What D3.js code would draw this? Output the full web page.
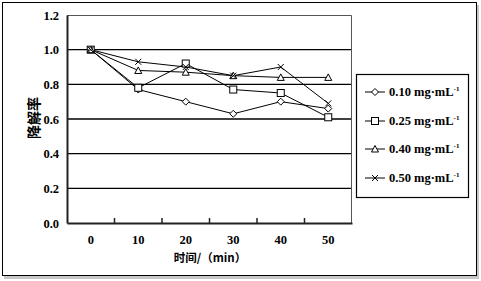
<!DOCTYPE html>
<html>
<head>
<meta charset="utf-8">
<script src="https://cdn.jsdelivr.net/npm/d3@7"></script>
<style>
  body { margin: 0; background: #fff; }
  svg text { font-family: "Liberation Serif", "Times New Roman", serif; font-weight: bold; fill: #000; }
</style>
</head>
<body>
<div id="chart"></div>
<script>
// Degradation rate vs. time, four concentrations
const times = ['0', '10', '20', '30', '40', '50'];
const yTicks = [0, 0.2, 0.4, 0.6, 0.8, 1.0, 1.2];
const seriesNames = ['0.10', '0.25', '0.40', '0.50'];
const c010 = [1.0, 0.77, 0.70, 0.63, 0.70, 0.66];
const c025 = [1.0, 0.78, 0.92, 0.77, 0.75, 0.61];
const c040 = [1.0, 0.88, 0.87, 0.85, 0.84, 0.84];
const c050 = [1.0, 0.93, 0.90, 0.85, 0.90, 0.69];
const seriesValues = [c010, c025, c040, c050];
const markers = ['diamond', 'square', 'triangle', 'cross'];

const W = 481, H = 281;
const margin = { top: 15, right: 129, bottom: 58, left: 67 };
const width = W - margin.left - margin.right;
const height = H - margin.top - margin.bottom;

const svg = d3.select('#chart').append('svg')
  .attr('width', W).attr('height', H);

// outer frame with a soft shadow
svg.append('rect').attr('x', 4).attr('y', 5).attr('width', 475).attr('height', 274).attr('fill', '#c8c8c8');
svg.append('rect').attr('x', 2.5).attr('y', 2.5).attr('width', 474).attr('height', 273)
  .attr('fill', '#fff').attr('stroke', '#000').attr('stroke-width', 1);

const g = svg.append('g').attr('transform', `translate(${margin.left},${margin.top})`);

const x = d3.scaleBand().domain(times).range([0, width]);
const y = d3.scaleLinear().domain([0, 1.2]).range([height, 0]);

// grid lines
g.selectAll('.grid').data(yTicks.filter(d => d > 0 && d < 1.2)).enter()
  .append('line')
  .attr('x1', 0).attr('x2', width)
  .attr('y1', d => y(d)).attr('y2', d => y(d))
  .attr('stroke', '#000').attr('stroke-width', 1.3);

// plot border (top / right)
g.append('path')
  .attr('d', `M0,0.5H${width - 0.5}V${height}`)
  .attr('fill', 'none').attr('stroke', '#555').attr('stroke-width', 1);

// y axis
const yAxis = g.append('g')
  .call(d3.axisLeft(y).tickValues(yTicks).tickFormat(d3.format('.1f')).tickSize(0).tickPadding(8));
yAxis.select('.domain').attr('stroke', '#222').attr('stroke-width', 2);
yAxis.selectAll('text').attr('font-size', 12.5);

// x axis: ticks between categories
const xAxis = g.append('g').attr('transform', `translate(0,${height})`)
  .call(d3.axisBottom(x).tickSize(0).tickPadding(12));
xAxis.select('.domain').attr('stroke', '#222').attr('stroke-width', 2);
xAxis.selectAll('text').attr('font-size', 12.5);
g.selectAll('.xtick').data(times.slice(1)).enter()
  .append('line')
  .attr('x1', d => x(d)).attr('x2', d => x(d))
  .attr('y1', height).attr('y2', height - 5)
  .attr('stroke', '#222').attr('stroke-width', 1.5);

// axis titles
svg.append('text')
  .attr('transform', `translate(39,118) rotate(-90)`)
  .attr('text-anchor', 'middle')
  .style('font-family', '"Noto Sans CJK SC", sans-serif')
  .attr('font-size', 14)
  .text('降解率');
svg.append('text')
  .attr('x', 210).attr('y', 262)
  .attr('text-anchor', 'middle')
  .style('font-family', '"Noto Sans CJK SC", sans-serif')
  .attr('font-size', 11.5)
  .text('时间/（min）');

function drawMarker(sel, type) {
  sel.each(function () {
    const m = d3.select(this);
    if (type === 'diamond') {
      m.append('path').attr('d', 'M0,-3.5L3.5,0L0,3.5L-3.5,0Z');
    } else if (type === 'square') {
      m.append('rect').attr('x', -3.5).attr('y', -3.5).attr('width', 7).attr('height', 7);
    } else if (type === 'triangle') {
      m.append('path').attr('d', 'M0,-3.5L3.5,3L-3.5,3Z');
    } else {
      m.append('path').attr('d', 'M-3,-3L3,3M-3,3L3,-3');
    }
  });
  sel.selectAll('path, rect').attr('fill', '#fff').attr('stroke', '#000').attr('stroke-width', 1);
}

const line = d3.line()
  .x((d, i) => x(times[i]) + x.bandwidth() / 2)
  .y(d => y(d));

seriesValues.forEach((vals, k) => {
  g.append('path').datum(vals)
    .attr('d', line)
    .attr('fill', 'none').attr('stroke', '#000').attr('stroke-width', 1);
});
seriesValues.forEach((vals, k) => {
  const pts = g.selectAll(null).data(vals).enter().append('g')
    .attr('transform', (d, i) => `translate(${x(times[i]) + x.bandwidth() / 2},${y(d)})`);
  drawMarker(pts, markers[k]);
});

// legend
const lg = svg.append('g');
lg.append('rect').attr('x', 356.5).attr('y', 74.5).attr('width', 112).attr('height', 123)
  .attr('fill', '#fff').attr('stroke', '#000').attr('stroke-width', 1.2);
const rows = [92, 121, 149, 178];
seriesNames.forEach((name, k) => {
  const row = lg.append('g').attr('transform', `translate(0,${rows[k]})`);
  row.append('line').attr('x1', 365).attr('x2', 385).attr('y1', 0).attr('y2', 0)
    .attr('stroke', '#000').attr('stroke-width', 1);
  const mk = row.append('g').attr('transform', 'translate(375,0)');
  drawMarker(mk, markers[k]);
  const t = row.append('text').attr('x', 389).attr('y', 4).attr('font-size', 12.5);
  t.append('tspan').text(`${name} mg·mL`);
  t.append('tspan').attr('font-size', 7).attr('dy', -5).text('-1');
});
</script>
</body>
</html>
